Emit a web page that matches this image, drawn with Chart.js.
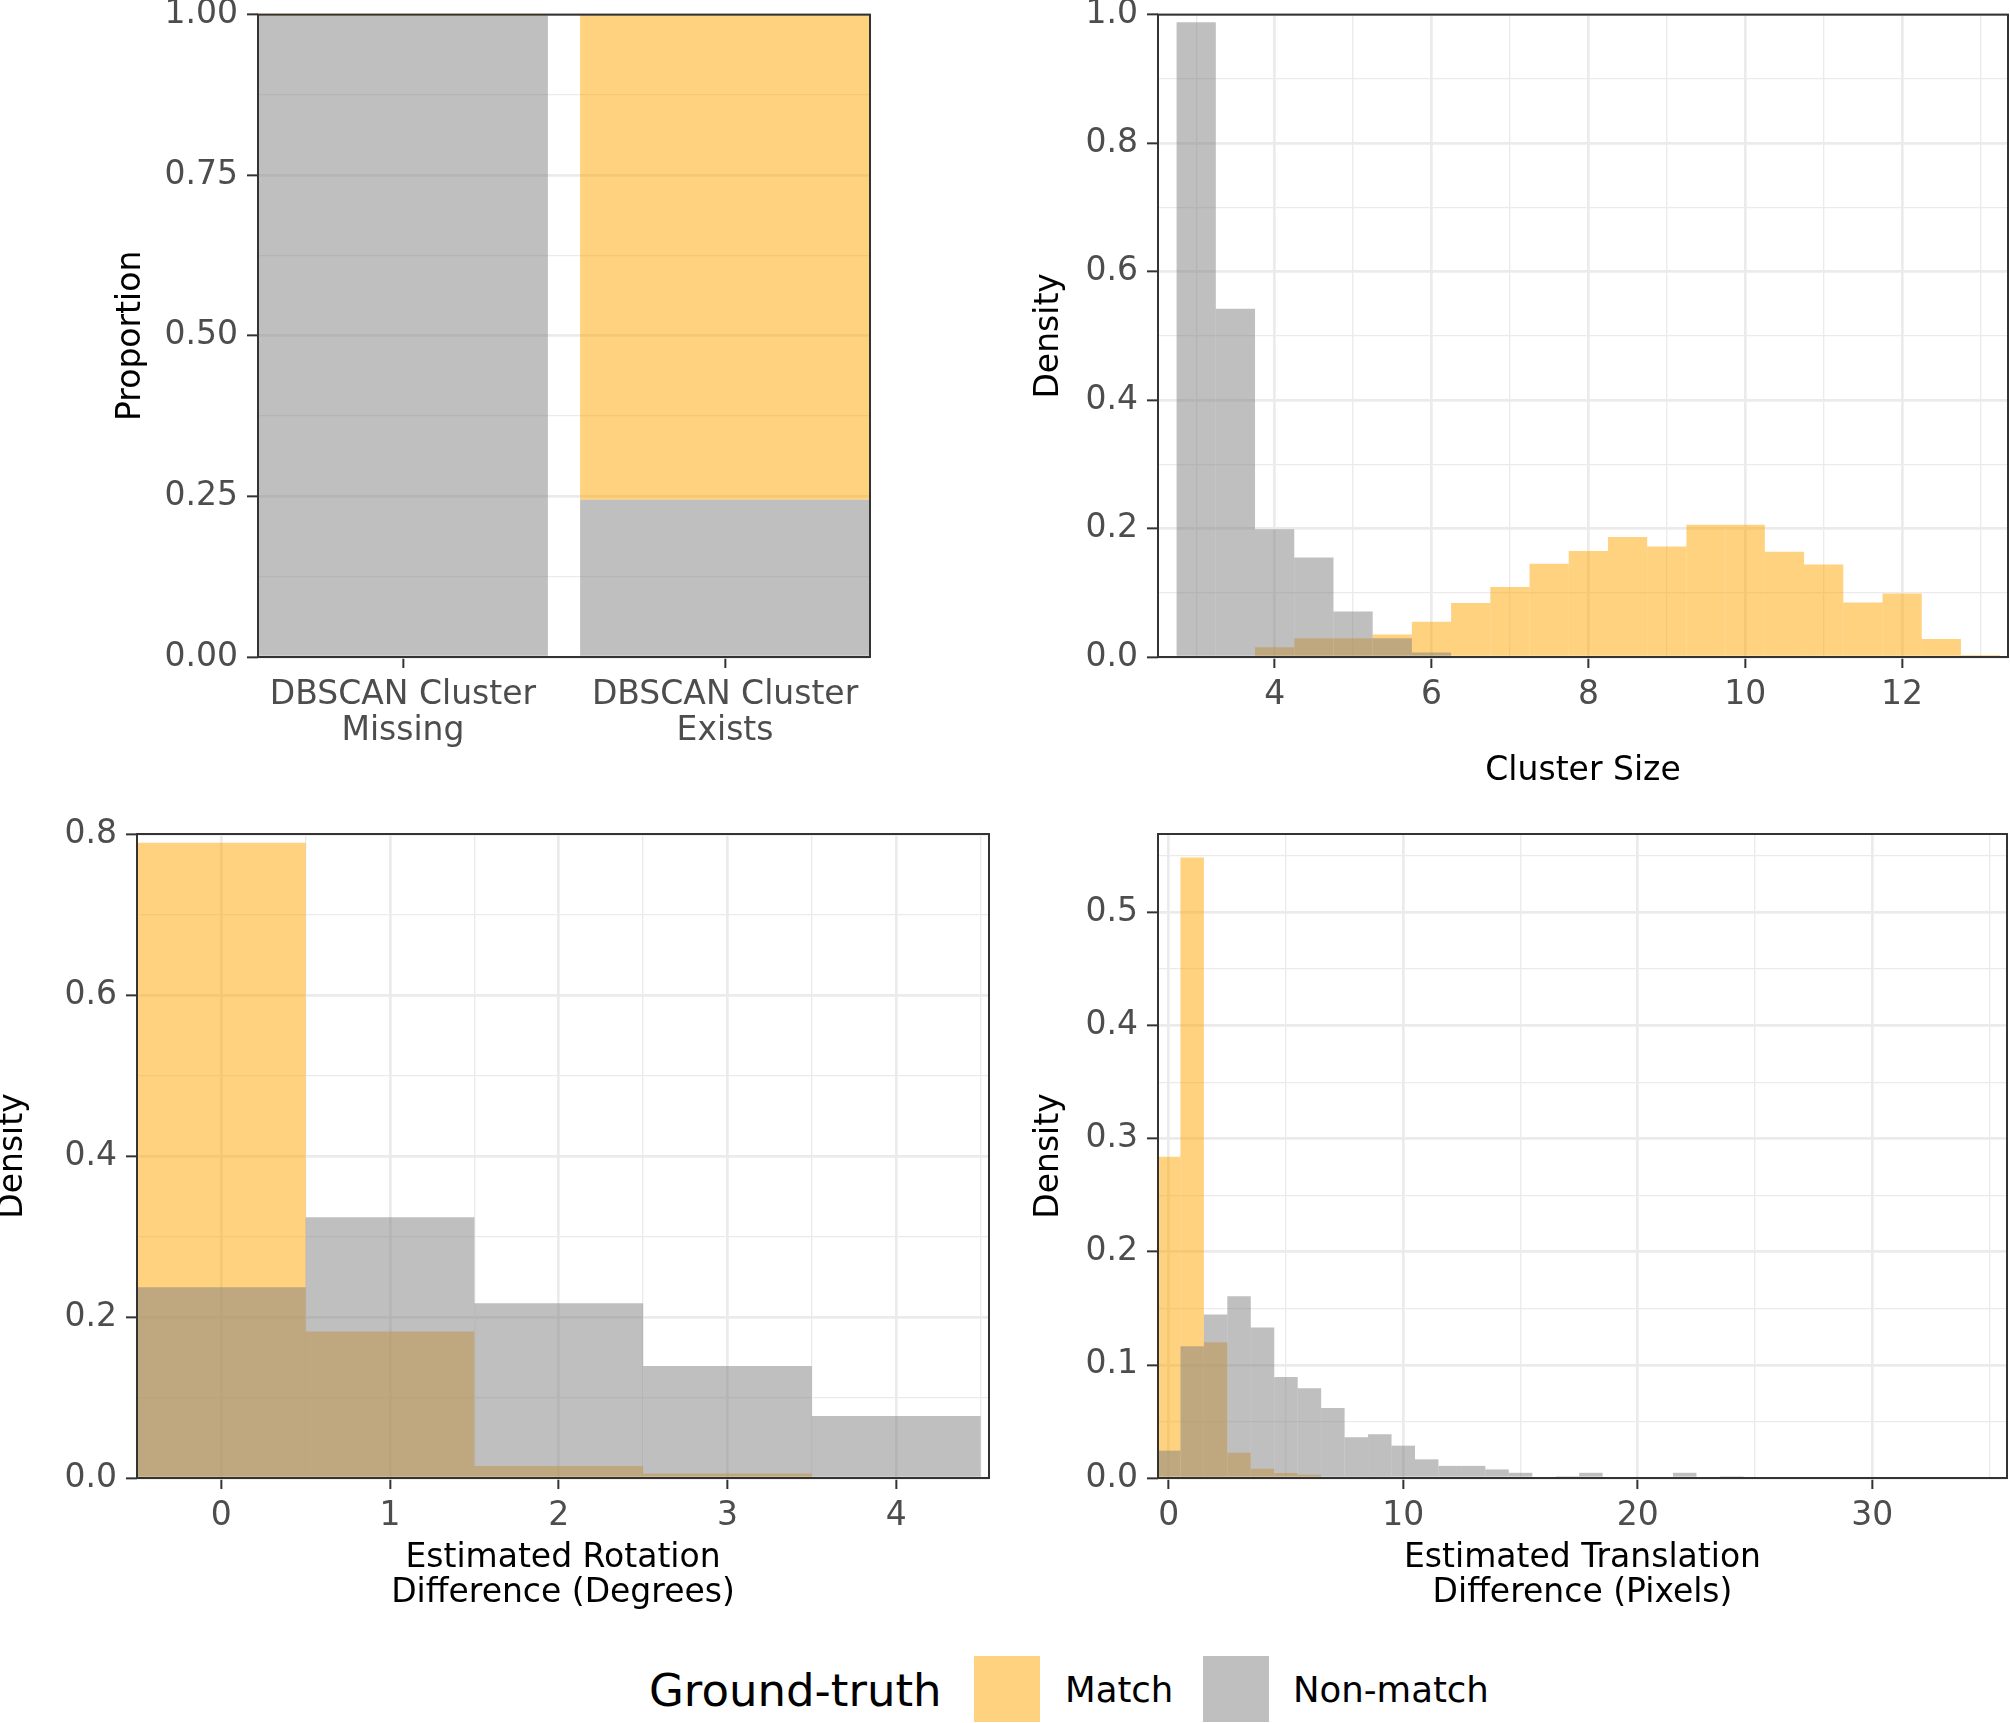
<!DOCTYPE html>
<html><head><meta charset="utf-8">
<script src="https://cdn.jsdelivr.net/npm/chart.js@4.4.1/dist/chart.umd.min.js"></script>
<style>
html,body{margin:0;padding:0;background:#fff;width:2010px;height:1723px;overflow:hidden;position:relative;font-family:'DejaVu Sans';}
canvas{position:absolute;}
.lg{position:absolute;white-space:nowrap;line-height:1;color:#000;font-family:'DejaVu Sans';}
.key{position:absolute;}
</style></head><body>
<canvas id="c1"></canvas><canvas id="c2"></canvas><canvas id="c3"></canvas><canvas id="c4"></canvas>
<div id="legend"></div>
<script>
// ---------------- data ----------------
const seriesNames = ['Match', 'Non-match'];
const legendTitle = 'Ground-truth';

// Panel 1: proportion by DBSCAN cluster status
const proportionCategories = [['DBSCAN Cluster', 'Missing'], ['DBSCAN Cluster', 'Exists']];
const proportionMatch = [0.002, 0.755];
const proportionNonMatch = [0.998, 0.245];
const proportionYTicks = [0, 0.25, 0.5, 0.75, 1];
const proportionYTickLabels = ['0.00', '0.25', '0.50', '0.75', '1.00'];
const proportionYMinor = [0.125, 0.375, 0.625, 0.875];

// Panel 2: cluster size histogram (bin centres, width 0.5)
const clusterBins = [3, 3.5, 4, 4.5, 5, 5.5, 6, 6.5, 7, 7.5, 8, 8.5, 9, 9.5, 10, 10.5, 11, 11.5, 12, 12.5, 13];
const clusterMatch = [0, 0, 0.015, 0.029, 0.029, 0.035, 0.055, 0.084, 0.109, 0.145, 0.165, 0.187, 0.172, 0.206, 0.206, 0.164, 0.144, 0.085, 0.099, 0.028, 0.003];
const clusterNonMatch = [0.988, 0.542, 0.199, 0.155, 0.071, 0.029, 0.007, 0, 0, 0, 0, 0, 0, 0, 0, 0, 0, 0, 0, 0, 0];
const clusterXTicks = [4, 6, 8, 10, 12];
const clusterXTickLabels = ['4', '6', '8', '10', '12'];
const clusterXMinor = [3, 5, 7, 9, 11, 13];
const clusterYTicks = [0, 0.2, 0.4, 0.6, 0.8, 1.0];
const clusterYTickLabels = ['0.0', '0.2', '0.4', '0.6', '0.8', '1.0'];
const clusterYMinor = [0.1, 0.3, 0.5, 0.7, 0.9];

// Panel 3: rotation difference histogram (bin centres, width 1)
const rotationBins = [0, 1, 2, 3, 4];
const rotationMatch = [0.789, 0.182, 0.015, 0.0057, 0];
const rotationNonMatch = [0.237, 0.324, 0.217, 0.139, 0.077];
const rotationXTicks = [0, 1, 2, 3, 4];
const rotationXTickLabels = ['0', '1', '2', '3', '4'];
const rotationXMinor = [-0.5, 0.5, 1.5, 2.5, 3.5, 4.5];
const rotationYTicks = [0, 0.2, 0.4, 0.6, 0.8];
const rotationYTickLabels = ['0.0', '0.2', '0.4', '0.6', '0.8'];
const rotationYMinor = [0.1, 0.3, 0.5, 0.7];

// Panel 4: translation difference histogram (bin centres, width 1)
const translationBins = [0, 1, 2, 3, 4, 5, 6, 7, 8, 9, 10, 11, 12, 13, 14, 15, 16, 17, 18, 19, 20, 21, 22, 23, 24];
const translationMatch = [0.284, 0.5488, 0.120, 0.0224, 0.0082, 0.0044, 0.0029, 0, 0, 0, 0, 0, 0, 0, 0, 0, 0, 0, 0, 0, 0, 0, 0, 0, 0];
const translationNonMatch = [0.0242, 0.1165, 0.1445, 0.1607, 0.133, 0.0894, 0.0793, 0.062, 0.036, 0.0386, 0.0286, 0.0165, 0.0107, 0.0107, 0.0076, 0.0046, 0, 0.0016, 0.0046, 0, 0, 0, 0.0046, 0, 0.0016];
const translationXTicks = [0, 10, 20, 30];
const translationXTickLabels = ['0', '10', '20', '30'];
const translationXMinor = [5, 15, 25, 35];
const translationYTicks = [0, 0.1, 0.2, 0.3, 0.4, 0.5];
const translationYTickLabels = ['0.0', '0.1', '0.2', '0.3', '0.4', '0.5'];
const translationYMinor = [0.05, 0.15, 0.25, 0.35, 0.45, 0.55];

// ---------------- style ----------------
const FONT = 'DejaVu Sans';
const seriesColors = ['rgba(255,165,0,0.5)', 'rgba(127,127,127,0.5)'];
const GRID = '#EBEBEB';
const DARK = '#333333';
const TICK_COLOR = '#4D4D4D';
const tickFont = { family: FONT, size: 33, lineHeight: 1.07 };
const titleFont = { family: FONT, size: 33, lineHeight: 1.07 };
const MAJOR_W = 2.7, MINOR_W = 1.35;

const near = (a, b) => Math.abs(a - b) < 1e-9;

const panelBorder = {
  id: 'panelBorder',
  afterDatasetsDraw(chart) {
    const { ctx, chartArea: a } = chart;
    ctx.save();
    ctx.strokeStyle = DARK;
    ctx.lineWidth = 2;
    ctx.strokeRect(a.left, a.top, a.right - a.left, a.bottom - a.top);
    ctx.restore();
  }
};

function yAxis(o) {
  const all = o.majors.concat(o.minors).sort((a, b) => a - b);
  const isMajor = v => o.majors.some(m => near(m, v));
  return {
    type: 'linear', position: 'left', min: o.min, max: o.max, stacked: !!o.stacked,
    afterBuildTicks: s => { s.ticks = all.map(v => ({ value: v })); },
    afterFit: s => { s.width = o.width; },
    ticks: {
      autoSkip: false, padding: 9, color: TICK_COLOR, font: tickFont,
      callback: v => { const i = o.majors.findIndex(m => near(m, v)); return i >= 0 ? o.labels[i] : ''; }
    },
    grid: {
      color: GRID,
      lineWidth: c => (c.tick && isMajor(c.tick.value)) ? MAJOR_W : MINOR_W,
      drawTicks: true, tickLength: 11,
      tickColor: c => (c.tick && isMajor(c.tick.value)) ? DARK : 'rgba(0,0,0,0)',
      tickWidth: 2
    },
    border: { display: false },
    title: { display: true, text: o.title, color: '#000', font: titleFont, padding: { top: o.titlePad, bottom: 0 } }
  };
}

function xAxis(o) {
  return {
    type: 'linear', position: 'bottom', min: o.min, max: o.max, stacked: !!o.stacked, weight: 0, offset: false,
    afterBuildTicks: s => { s.ticks = o.majors.map(v => ({ value: v })); },
    afterFit: s => { s.height = o.height; },
    ticks: {
      autoSkip: false, maxRotation: 0, minRotation: 0, padding: 10, color: TICK_COLOR, font: tickFont,
      callback: v => { const i = o.majors.findIndex(m => near(m, v)); return i >= 0 ? o.labels[i] : ''; }
    },
    grid: {
      offset: false,
      drawOnChartArea: o.grid !== false, color: GRID, lineWidth: MAJOR_W,
      drawTicks: true, tickLength: 11, tickColor: DARK, tickWidth: 2
    },
    border: { display: false },
    title: o.title ? { display: true, text: o.title, color: '#000', font: titleFont, padding: { top: 0, bottom: o.titlePad } } : { display: false }
  };
}

function minorXAxis(o) {
  return {
    type: 'linear', position: 'bottom', min: o.min, max: o.max, weight: 10, offset: false,
    afterBuildTicks: s => { s.ticks = o.minors.map(v => ({ value: v })); },
    afterFit: s => { s.height = 0; },
    ticks: { display: false, autoSkip: false },
    grid: { offset: false, color: GRID, lineWidth: MINOR_W, drawTicks: false },
    border: { display: false },
    title: { display: false }
  };
}

function histDataset(bins, vals, color, order, label) {
  return {
    label, xAxisID: 'x', yAxisID: 'y',
    data: bins.map((b, i) => ({ x: b, y: vals[i] })),
    backgroundColor: color, borderWidth: 0, inflateAmount: 0,
    barPercentage: 1, categoryPercentage: 1, grouped: false, order, clip: 0
  };
}

function baseOptions(pad, scales) {
  return {
    responsive: false, animation: false, devicePixelRatio: 1,
    layout: { padding: pad },
    plugins: { legend: { display: false }, tooltip: { enabled: false } },
    scales
  };
}

function place(id, x, y, w, h) {
  const cv = document.getElementById(id);
  cv.width = w; cv.height = h;
  cv.style.left = x + 'px'; cv.style.top = y + 'px';
  cv.style.width = w + 'px'; cv.style.height = h + 'px';
  return cv;
}

// ---------------- panel 1 ----------------
new Chart(place('c1', 0, -12, 880, 812), {
  type: 'bar',
  data: {
    datasets: [
      { label: seriesNames[1], data: proportionCategories.map((c, i) => ({ x: i + 1, y: proportionNonMatch[i] })),
        backgroundColor: seriesColors[1], borderWidth: 0, inflateAmount: 0, barPercentage: 0.9, categoryPercentage: 1, order: 0, clip: 0 },
      { label: seriesNames[0], data: proportionCategories.map((c, i) => ({ x: i + 1, y: proportionMatch[i] })),
        backgroundColor: seriesColors[0], borderWidth: 0, inflateAmount: 0, barPercentage: 0.9, categoryPercentage: 1, order: 1, clip: 0 }
    ]
  },
  options: baseOptions({ top: 25, right: 10, left: 0, bottom: 0 }, {
    x: xAxis({ min: 0.55, max: 2.45, stacked: true, majors: proportionCategories.map((c, i) => i + 1),
               labels: proportionCategories, height: 143, grid: false }),
    y: yAxis({ min: 0, max: 1, stacked: true, majors: proportionYTicks, labels: proportionYTickLabels,
               minors: proportionYMinor, width: 258, title: 'Proportion', titlePad: 114 })
  }),
  plugins: [panelBorder]
});

// ---------------- panel 2 ----------------
new Chart(place('c2', 1000, -12, 1010, 812), {
  type: 'bar',
  data: { datasets: [
    histDataset(clusterBins, clusterNonMatch, seriesColors[1], 0, seriesNames[1]),
    histDataset(clusterBins, clusterMatch, seriesColors[0], 1, seriesNames[0])
  ] },
  options: baseOptions({ top: 25, right: 2, left: 0, bottom: 0 }, {
    x: xAxis({ min: 2.513, max: 13.35, majors: clusterXTicks, labels: clusterXTickLabels, height: 143,
               title: 'Cluster Size', titlePad: 11 }),
    xm: minorXAxis({ min: 2.513, max: 13.35, minors: clusterXMinor }),
    y: yAxis({ min: 0, max: 1, majors: clusterYTicks, labels: clusterYTickLabels, minors: clusterYMinor,
               width: 158, title: 'Density', titlePad: 32 })
  }),
  plugins: [panelBorder]
});

// ---------------- panel 3 ----------------
new Chart(place('c3', -20, 800, 1020, 840), {
  type: 'bar',
  data: { datasets: [
    histDataset(rotationBins, rotationNonMatch, seriesColors[1], 0, seriesNames[1]),
    histDataset(rotationBins, rotationMatch, seriesColors[0], 1, seriesNames[0])
  ] },
  options: baseOptions({ top: 34, right: 11, left: 0, bottom: 0 }, {
    x: xAxis({ min: -0.5, max: 4.55, majors: rotationXTicks, labels: rotationXTickLabels, height: 162,
               title: ['Estimated Rotation', 'Difference (Degrees)'], titlePad: 29 }),
    xm: minorXAxis({ min: -0.5, max: 4.55, minors: rotationXMinor }),
    y: yAxis({ min: 0, max: 0.8, majors: rotationYTicks, labels: rotationYTickLabels, minors: rotationYMinor,
               width: 157, title: 'Density', titlePad: 16 })
  }),
  plugins: [panelBorder]
});

// ---------------- panel 4 ----------------
new Chart(place('c4', 1000, 800, 1010, 840), {
  type: 'bar',
  data: { datasets: [
    histDataset(translationBins, translationNonMatch, seriesColors[1], 0, seriesNames[1]),
    histDataset(translationBins, translationMatch, seriesColors[0], 1, seriesNames[0])
  ] },
  options: baseOptions({ top: 34, right: 3, left: 0, bottom: 0 }, {
    x: xAxis({ min: -0.456, max: 35.74, majors: translationXTicks, labels: translationXTickLabels, height: 162,
               title: ['Estimated Translation', 'Difference (Pixels)'], titlePad: 29 }),
    xm: minorXAxis({ min: -0.456, max: 35.74, minors: translationXMinor }),
    y: yAxis({ min: 0, max: 0.5695, majors: translationYTicks, labels: translationYTickLabels, minors: translationYMinor,
               width: 158, title: 'Density', titlePad: 32 })
  }),
  plugins: [panelBorder]
});

// ---------------- legend ----------------
(function () {
  const lg = document.getElementById('legend');
  const t = document.createElement('div');
  t.className = 'lg'; t.textContent = legendTitle;
  t.style.left = '649px'; t.style.top = '1668px'; t.style.fontSize = '45px';
  lg.appendChild(t);
  const keyLeft = [974, 1203];
  const labelLeft = [1065, 1293];
  seriesNames.forEach((n, i) => {
    const k = document.createElement('div');
    k.className = 'key';
    k.style.left = keyLeft[i] + 'px'; k.style.top = '1656px';
    k.style.width = '66px'; k.style.height = '66px';
    k.style.background = seriesColors[i];
    lg.appendChild(k);
    const l = document.createElement('div');
    l.className = 'lg'; l.textContent = n;
    l.style.left = labelLeft[i] + 'px'; l.style.top = '1672px'; l.style.fontSize = '35.5px';
    lg.appendChild(l);
  });
})();
</script>
</body></html>
